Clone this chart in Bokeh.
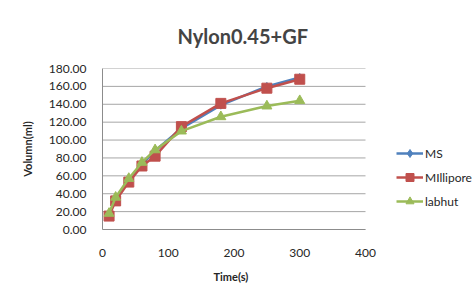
from bokeh.plotting import figure
from bokeh.models import NumeralTickFormatter, FixedTicker, Legend, LegendItem, Range1d, Title
from bokeh.embed import file_html
from bokeh.resources import INLINE

time_s = [10, 20, 40, 60, 80, 120, 180, 250, 300]
ms = [17, 34, 55, 73, 88, 113, 139, 160, 170]
millipore = [15, 32, 53, 71, 82, 115, 141, 158, 168]
labhut = [18, 36, 57, 75, 89, 110, 126, 138, 144]
y_ticks = [0, 20, 40, 60, 80, 100, 120, 140, 160, 180]
x_ticks = [0, 100, 200, 300, 400]

FONT = "Lato"
X_MAX = x_ticks[-1]
# frame extends to the right edge so that the legend can live inside it;
# the data area (0..400) occupies the left 263 px of the 374 px frame
X_END = X_MAX * 374 / 263
p = figure(width=476, height=293, output_backend="svg", toolbar_location=None,
           x_range=Range1d(0, X_END), y_range=Range1d(0, y_ticks[-1]),
           min_border_left=102, min_border_right=0, min_border_top=68, min_border_bottom=64,
           border_fill_color="white")
p.title.text = "Nylon0.45+GF"
p.title.text_font = FONT
p.title.text_font_size = "20px"
p.title.align = "left"
p.title.offset = 75
p.title.standoff = 41

p.outline_line_color = None
p.xgrid.grid_line_color = None
p.ygrid.grid_line_color = None
p.segment(x0=0, y0=y_ticks, x1=X_MAX, y1=y_ticks, line_color="#a6a6a6", line_width=1)

p.yaxis.ticker = FixedTicker(ticks=y_ticks)
p.xaxis.ticker = FixedTicker(ticks=x_ticks)
p.xaxis.bounds = (0, X_MAX)
p.yaxis.formatter = NumeralTickFormatter(format="0.00")
for ax in (p.xaxis, p.yaxis):
    ax.axis_line_color = "#8c8c8c"
    ax.major_tick_line_color = None
    ax.minor_tick_line_color = None
    ax.major_tick_out = 0
    ax.major_tick_in = 0
    ax.minor_tick_out = 0
    ax.minor_tick_in = 0
    ax.major_label_text_font = FONT
    ax.major_label_text_font_size = "12px"
    ax.major_label_text_color = "#262626"
    ax.axis_label_text_font = FONT
    ax.axis_label_text_font_size = "11px"
    ax.axis_label_text_font_style = "bold"
    ax.axis_label_text_color = "#262626"
p.yaxis.axis_label = "Volumn(ml)"
p.xaxis.major_label_standoff = 19
p.yaxis.major_label_standoff = 16
p.yaxis.axis_label_standoff = 12

xlabel = Title(text="Time(s)", align="left", offset=111, standoff=16,
               text_font=FONT, text_font_size="11px", text_font_style="bold",
               text_color="#262626")
p.add_layout(xlabel, "below")

r1l = p.line(time_s, ms, line_color="#4F81BD", line_width=2.5)
r1m = p.scatter(time_s, ms, marker="diamond", size=8, color="#4F81BD")
r2l = p.line(time_s, millipore, line_color="#C0504D", line_width=2.5)
r2m = p.scatter(time_s, millipore, marker="square", size=10, color="#C0504D")
r3l = p.line(time_s, labhut, line_color="#9BBB59", line_width=2.5)
r3m = p.scatter(time_s, labhut, marker="triangle", size=10, color="#9BBB59")

legend = Legend(items=[LegendItem(label="MS", renderers=[r1l, r1m]),
                       LegendItem(label="MIllipore", renderers=[r2l, r2m]),
                       LegendItem(label="labhut", renderers=[r3l, r3m])],
                location=(294, 18), border_line_color=None, background_fill_alpha=0,
                label_text_font=FONT, label_text_font_size="12px", label_text_color="#262626",
                glyph_width=27, label_standoff=2, spacing=4, padding=0, margin=0)
p.add_layout(legend, "center")

open("out.html", "w").write(file_html(p, INLINE))
